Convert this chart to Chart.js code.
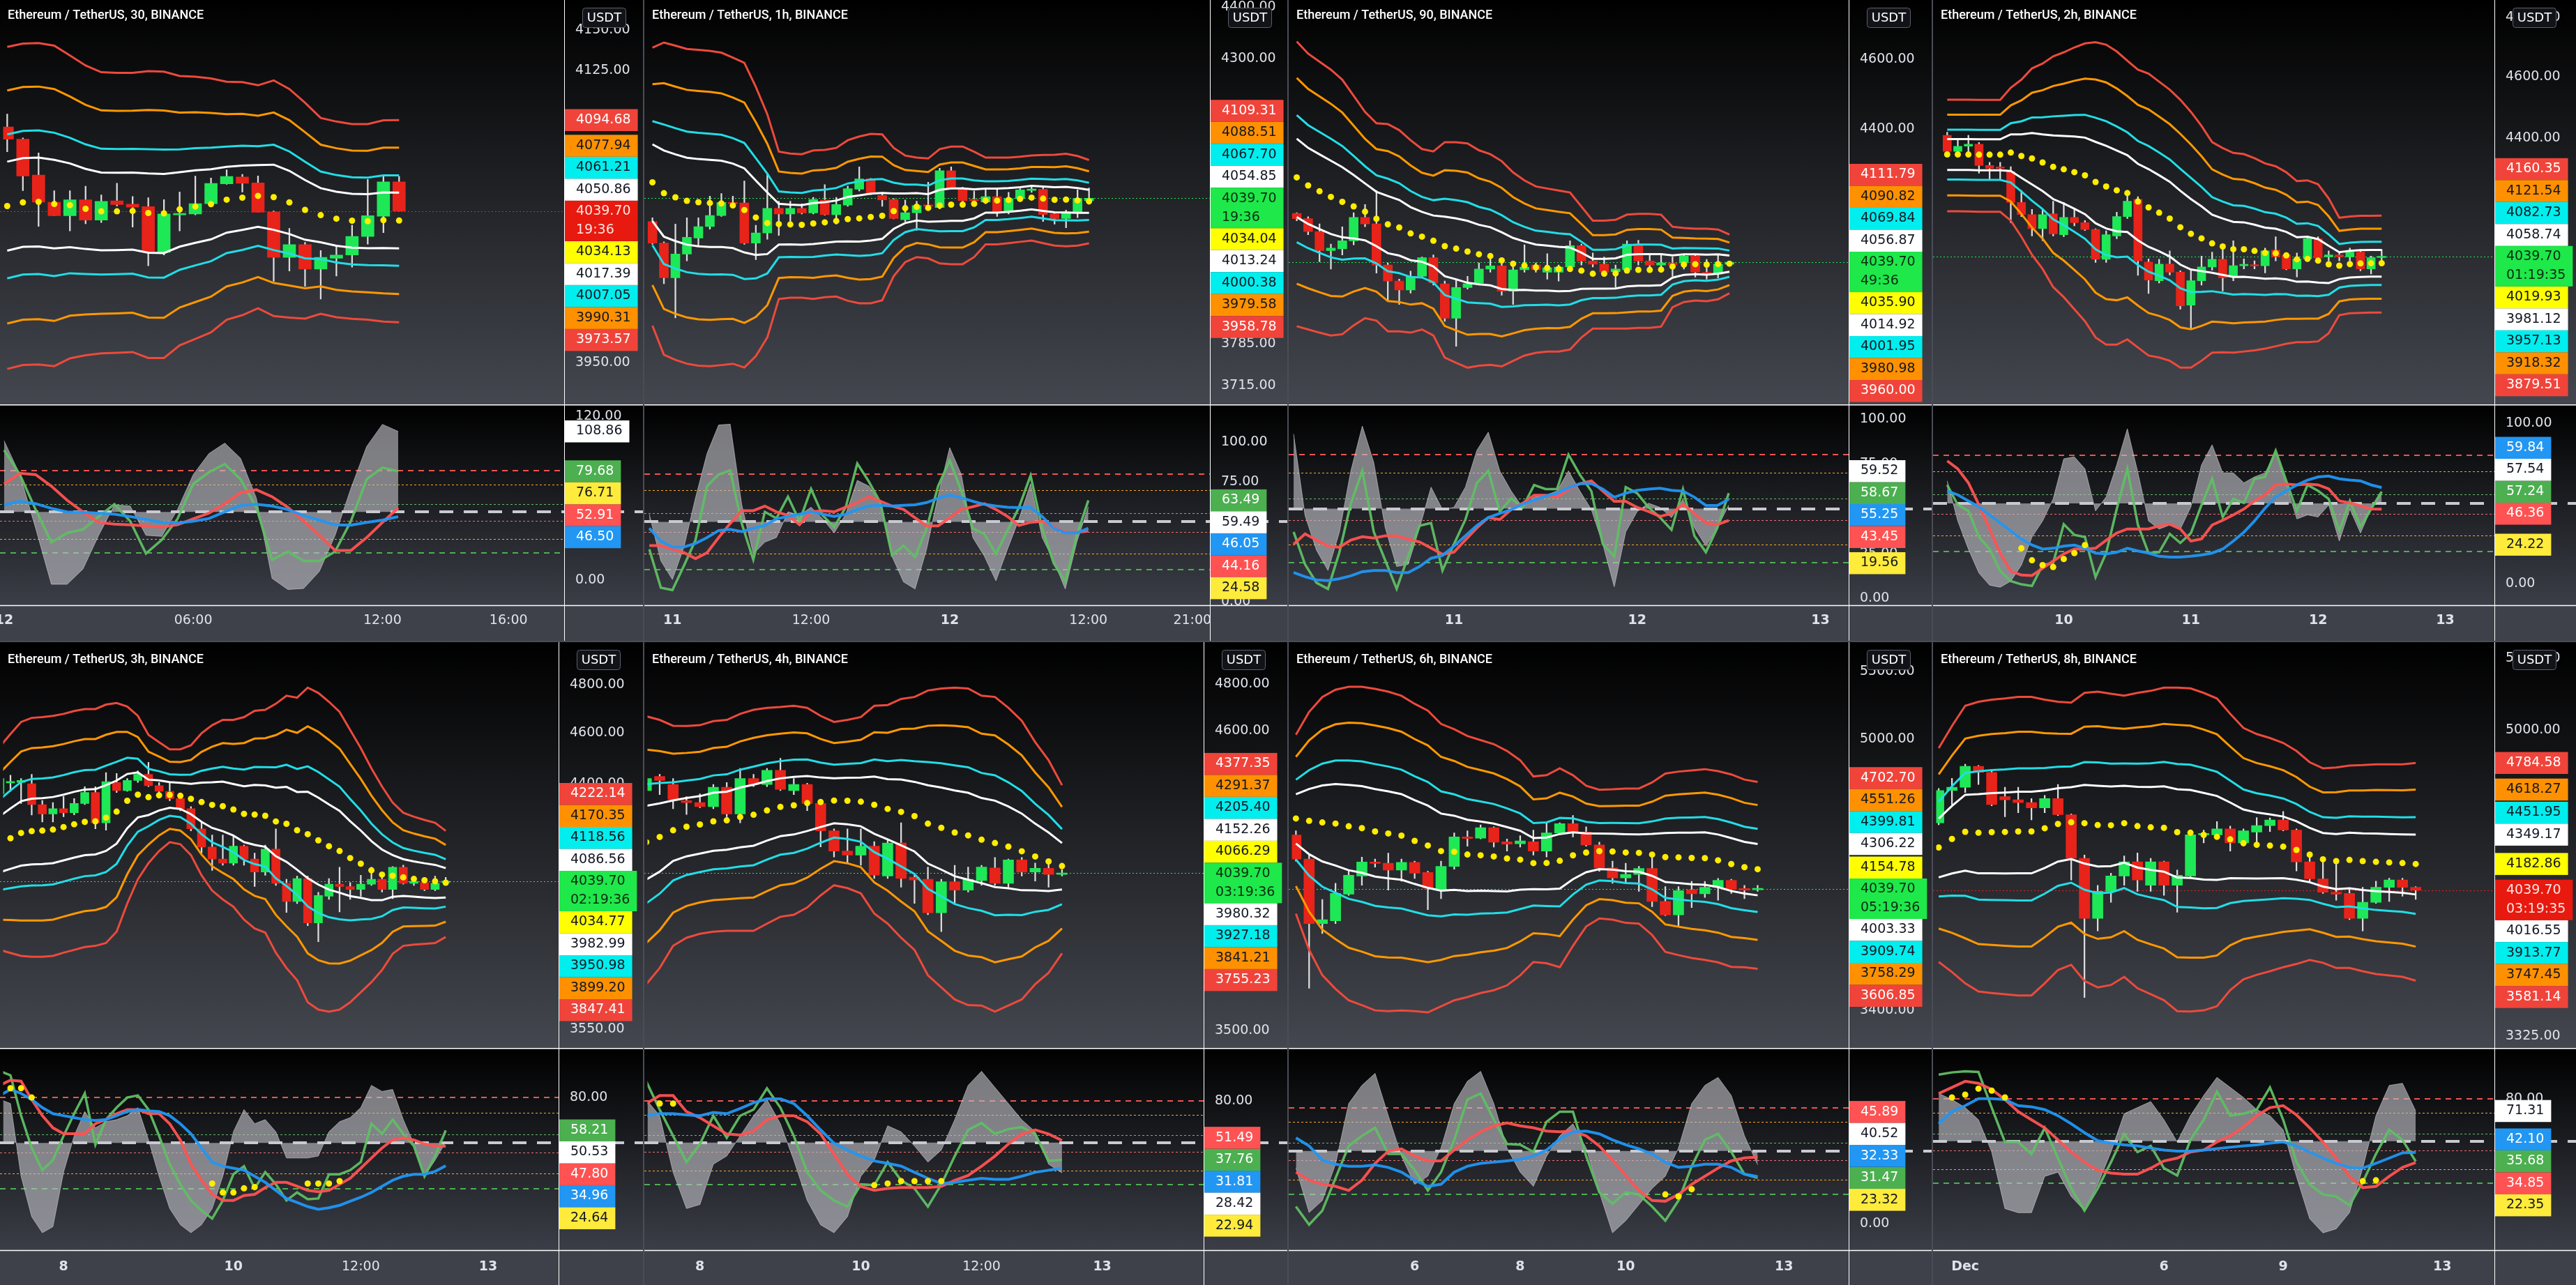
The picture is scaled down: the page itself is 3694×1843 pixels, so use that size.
<!DOCTYPE html>
<html>
<head>
<meta charset="utf-8">
<script src="https://cdn.jsdelivr.net/npm/chart.js@4.4.1/dist/chart.umd.min.js"></script>
<style>
  html, body { margin: 0; padding: 0; width: 3694px; height: 1843px; overflow: hidden; background: #4a4d57; }
  .panel { position: absolute; overflow: hidden; background: #000; }
  .panel canvas { position: absolute; left: 0; }
</style>
</head>
<body>
<script>
// ---- shared values ----
const titles = [
  'Ethereum / TetherUS, 30, BINANCE', 'Ethereum / TetherUS, 1h, BINANCE',
  'Ethereum / TetherUS, 90, BINANCE', 'Ethereum / TetherUS, 2h, BINANCE',
  'Ethereum / TetherUS, 3h, BINANCE', 'Ethereum / TetherUS, 4h, BINANCE',
  'Ethereum / TetherUS, 6h, BINANCE', 'Ethereum / TetherUS, 8h, BINANCE'
];
const lastPrice = 4039.70;
const countdowns = ['19:36', '19:36', '49:36', '01:19:35', '02:19:36', '03:19:36', '05:19:36', '03:19:35'];
const bandMult = [1, 0.7236, 0.4472, 0.2764];
const oscLevelValues = [80, 70, 55.5, 50, 43.5, 30, 20];

// ---- panel 1 : 30m ----
const p1Candles = [
  [4090.5,4098.4,4075.5,4083.1],[4083.1,4083.9,4052.0,4060.8],[4061.4,4074.8,4030.6,4045.1],[4045.1,4052.0,4037.0,4037.0],
  [4037.0,4052.0,4027.9,4046.5],[4046.5,4054.7,4032.2,4034.3],[4034.3,4049.4,4032.9,4045.6],[4045.9,4056.5,4042.8,4043.6],
  [4043.9,4048.5,4030.2,4042.1],[4042.4,4047.8,4007.1,4015.4],[4015.1,4046.6,4013.5,4038.0],[4037.5,4051.2,4027.9,4038.3],
  [4038.0,4060.8,4037.5,4044.2],[4044.2,4059.6,4043.6,4056.4],[4056.1,4064.6,4055.8,4060.6],[4060.3,4061.8,4051.2,4056.4],
  [4056.7,4060.9,4039.0,4039.0],[4039.3,4039.8,3997.9,4012.1],[4012.1,4029.4,4004.0,4019.7],[4019.7,4021.1,3994.9,4005.1],
  [4005.1,4016.2,3987.3,4012.1],[4011.6,4018.5,4001.0,4013.5],[4013.5,4031.4,4006.3,4024.6],[4024.6,4058.8,4020.0,4037.0],
  [4036.7,4060.6,4026.8,4057.3],[4057.3,4060.6,4039.7,4039.7]
];
const p1Basis = [4042.8,4045.0,4045.3,4044.0,4043.3,4041.1,4039.6,4039.6,4039.8,4038.6,4038.4,4040.8,4042.5,4043.9,4046.6,4047.8,4048.9,4048.1,4045.0,4040.5,4037.3,4035.2,4034.0,4033.7,4034.3,4034.13];
const p1Width = [96.6,96.5,96.5,96.2,90.9,86.9,84.3,83.9,83.7,86.0,85.8,80.8,78.7,76.2,71.5,70.0,67.0,70.8,68.6,64.7,58.7,58.6,58.3,58.6,60.3,60.55];
const p1Green = [95.2,77.3,51.7,27.8,34.6,37.2,46.6,55.6,43.2,19.6,29.5,44.9,70.5,79.0,85.0,73.9,53.4,15.0,21.0,14.2,14.2,21.0,43.2,73.9,82.4,79.68];
const p1Red = [70.5,78.2,77.3,68.8,58.5,50.0,42.3,41.0,40.6,39.8,38.9,40.6,44.9,49.1,56.0,64.0,66.2,61.1,53.4,43.2,32.9,21.8,21.8,31.2,42.3,52.91];
const p1Blue = [55.1,57.7,56.0,52.6,50.0,49.7,49.1,48.3,46.6,44.5,42.3,41.8,43.2,45.2,50.0,54.8,55.6,54.3,51.7,47.4,44.0,40.6,40.3,42.3,44.0,46.50];
const p1Gray = [102,77.3,38.1,-2.9,-2.9,8.2,32.9,55.1,54.3,32.9,32.1,51.7,77.3,92.7,100.3,89.2,60.2,1.4,-6.7,-6.0,6.5,32.9,67.1,97.8,114.0,108.86];
const p1Dots = [];
const p1Levels = [4094.68,4077.94,4061.21,4050.86,4034.13,4017.39,4007.05,3990.31,3973.57];
const p1OscLast = [79.68,52.91,46.50,108.86,76.71];
const p1PriceTicks = [4150,4125,3950];
const p1OscTicks = [120,0];
const p1TimeIdx = [0,12,24,32];
const p1TimeText = ['12','06:00','12:00','16:00'];

// ---- panel 2 : 1h ----
const p2Candles = [
  [3997.7,4004.5,3957.1,3959.3],[3959.3,3961.6,3887.9,3898.2],[3898.2,3993.2,3828.9,3940.0],[3940.0,4004.5,3927.9,3969.6],
  [3968.2,4004.5,3954.8,3988.6],[3988.6,4043.4,3984.1,4008.5],[4008.5,4048.0,4006.7,4031.9],[4031.9,4043.4,4025.0,4029.6],
  [4031.0,4071.0,3957.1,3959.3],[3959.3,3990.9,3930.1,3977.3],[3977.3,4084.9,3966.0,4021.3],[4021.3,4034.2,3972.8,4011.2],
  [4011.2,4034.2,3997.7,4021.3],[4021.3,4029.6,4011.2,4013.1],[4013.1,4041.1,4011.2,4037.4],[4036.5,4064.1,4008.9,4009.9],
  [4009.9,4041.1,3993.2,4028.2],[4027.3,4061.7,4025.0,4057.1],[4055.8,4096.6,4052.6,4074.7],[4074.7,4075.6,4046.0,4048.0],
  [4044.7,4050.3,4025.0,4036.5],[4037.4,4038.8,4002.3,4003.2],[4000.9,4036.5,3997.7,4013.5],[4013.5,4034.2,3981.8,4026.4],
  [4027.3,4068.7,4018.1,4025.0],[4022.7,4094.3,4020.4,4089.6],[4089.6,4096.6,4057.1,4058.1],[4058.1,4059.4,4029.6,4035.1],
  [4036.5,4052.6,4029.6,4035.1],[4032.8,4054.8,4029.6,4042.5],[4042.5,4054.8,4006.7,4014.9],[4014.9,4050.3,4011.2,4038.8],
  [4038.8,4057.1,4034.2,4054.8],[4053.7,4061.7,4050.3,4055.8],[4055.8,4059.4,3997.7,4010.3],[4011.2,4012.1,3993.2,4003.2],
  [4003.2,4018.1,3986.4,4014.9],[4014.9,4054.8,4004.5,4038.8],[4035.1,4058.1,4028.7,4039.7]
];
const p2Basis = [4068.4,4048.7,4041.3,4035.0,4032.4,4031.0,4030.2,4026.6,4018.4,4005.0,3995.0,3993.1,3992.5,3991.8,3994.2,3996.2,3998.7,4002.1,4003.4,4005.8,4007.9,4016.4,4021.6,4024.2,4022.2,4026.4,4028.1,4028.1,4029.6,4035.4,4035.4,4036.5,4038.4,4040.7,4038.9,4036.9,4037.2,4035.7,4034.04];
const p2Width = [252.7,282.5,283.7,283.8,284.6,284.0,281.3,275.4,273.6,241.0,199.3,131.6,128.8,128.1,132.7,131.6,132.9,143.7,149.4,151.8,148.7,115.2,95.9,89.6,89.9,103.0,106.0,106.0,95.0,78.4,78.4,77.3,76.9,76.9,79.7,82.1,83.7,80.9,75.27];
const p2Green = [32.9,8.7,7.3,22.6,38.7,72.4,79.7,82.3,49.0,26.3,56.3,52.2,65.8,50.4,70.6,54.1,46.8,59.2,86.6,75.3,62.1,29.2,35.1,28.0,46.0,72.4,88.5,69.5,46.0,42.4,29.9,44.6,59.2,79.0,46.0,24.1,12.4,41.7,63.49];
const p2Red = [35.1,35.1,32.9,30.7,27.0,30.7,40.2,49.0,57.0,57.0,59.9,56.3,54.1,48.2,56.3,57.0,56.3,59.2,62.1,65.8,62.9,59.9,57.8,52.6,47.5,47.5,52.6,57.8,59.5,61.4,57.8,53.4,47.8,49.7,50.4,46.8,43.4,43.4,44.16];
const p2Blue = [46.0,38.0,34.3,34.3,36.5,40.2,44.6,45.3,43.9,46.0,47.8,51.9,53.4,54.8,56.3,54.8,53.4,54.8,57.8,59.9,60.4,59.9,60.4,60.7,62.1,64.8,66.8,65.1,62.9,61.0,59.9,59.2,58.9,59.2,53.4,46.0,43.1,43.1,46.05];
const p2Gray = [54.8,25.6,13.9,34.3,65.1,92.9,110.7,111.2,60.7,30.0,37.3,40.2,56.3,54.1,59.2,51.9,43.1,54.8,76.0,72.4,62.1,28.5,12.4,8.0,32.9,66.5,96.5,79.7,40.2,28.5,13.1,32.9,51.9,73.9,40.2,25.6,8.0,37.3,59.49];
const p2Dots = [];
const p2Levels = [4109.31,4088.51,4067.70,4054.85,4034.04,4013.24,4000.38,3979.58,3958.78];
const p2OscLast = [63.49,44.16,46.05,59.49,24.58];
const p2PriceTicks = [4400,4300,3785,3715];
const p2OscTicks = [100,75,0];
const p2TimeIdx = [2,14,26,38,47];
const p2TimeText = ['11','12:00','12','12:00','21:00'];

// ---- panel 3 : 90m ----
const p3Candles = [
  [4167.9,4170.0,4148.5,4153.9],[4153.9,4159.2,4111.2,4119.8],[4119.8,4140.0,4040.7,4070.0],[4070.0,4086.9,4022.0,4076.4],
  [4074.3,4132.5,4058.5,4095.4],[4095.4,4170.0,4084.8,4157.2],[4157.2,4191.6,4132.5,4140.0],[4140.0,4229.6,4011.6,4032.4],
  [4032.4,4037.6,3939.8,3991.0],[3991.0,3996.1,3931.7,3968.3],[3968.3,4016.8,3960.2,4003.3],[4003.3,4053.3,4001.2,4051.2],
  [4051.2,4058.5,3980.7,3986.1],[3984.1,3991.0,3889.3,3897.3],[3897.3,3993.1,3827.6,3974.5],[3974.5,4003.3,3970.4,3984.1],
  [3986.1,4037.6,3980.7,4022.0],[4022.0,4058.5,4013.7,4030.3],[4030.3,4037.6,3955.1,3965.3],[3965.3,4032.4,3931.7,4019.9],
  [4019.9,4084.8,4013.7,4027.2],[4032.4,4037.6,4013.7,4019.9],[4013.7,4061.6,3996.1,4025.1],[4013.7,4032.4,3991.0,4027.2],
  [4027.2,4095.4,4022.0,4082.7],[4082.7,4086.9,4032.4,4042.8],[4042.8,4063.8,4027.2,4034.5],[4034.5,4053.3,4009.5,4013.7],
  [4015.0,4032.4,3975.5,4022.0],[4019.9,4095.4,4016.8,4086.9],[4086.9,4097.0,4032.4,4042.8],[4042.8,4058.5,4027.2,4032.4],
  [4032.4,4058.5,4024.1,4037.6],[4037.6,4053.3,4003.3,4032.4],[4037.6,4058.5,4022.0,4055.4],[4055.4,4058.5,4001.2,4013.7],
  [4013.7,4047.0,3996.1,4009.5],[4009.5,4058.5,3999.1,4034.5],[4034.5,4040.7,4032.4,4039.7]
];
const p3Basis = [4265.4,4243.4,4227.6,4212.3,4199.1,4186.8,4172.7,4153.7,4139.0,4130.5,4114.8,4106.4,4095.6,4081.4,4075.0,4067.4,4060.3,4055.8,4044.3,4035.6,4031.0,4026.2,4024.9,4022.2,4022.0,4017.8,4009.9,4009.9,4011.0,4018.0,4020.0,4020.0,4020.5,4028.6,4033.5,4034.5,4033.5,4035.0,4035.90];
const p3Width = [388.1,374.2,366.3,358.0,341.8,307.5,275.4,262.4,274.7,266.2,253.5,237.2,241.3,281.4,287.7,291.9,279.9,273.4,265.8,243.5,226.1,214.5,210.2,207.5,202.3,168.5,138.7,138.7,139.8,146.8,146.8,146.8,144.2,104.0,95.8,92.7,93.7,90.2,75.9];
const p3Green = [37.0,18.9,8.6,5.2,25.7,53.0,71.1,37.0,21.1,5.2,23.4,40.5,42.0,15.5,30.2,43.9,64.3,71.1,48.4,55.7,50.7,63.2,60.9,60.9,80.2,68.9,59.8,30.2,23.4,62.0,58.6,50.7,45.0,38.2,60.9,34.8,25.7,39.3,58.67];
const p3Red = [30.2,35.9,32.5,29.1,28.4,32.5,34.3,33.6,34.8,34.8,33.0,31.4,28.0,24.5,25.7,32.5,39.3,45.0,43.9,49.5,53.0,57.5,57.5,56.4,60.9,63.9,65.5,59.8,54.1,54.1,50.7,48.4,45.7,47.3,52.5,47.3,42.0,41.1,43.45];
const p3Blue = [14.3,12.0,10.2,9.8,10.9,12.5,14.8,15.5,15.5,14.3,14.3,17.7,22.3,23.9,29.1,34.8,40.5,45.0,47.3,49.5,52.5,54.8,57.0,58.6,61.6,63.9,63.9,60.9,56.4,58.6,60.2,60.9,61.4,60.2,59.8,56.4,51.8,51.8,55.25];
const p3Gray = [91.6,46.1,26.8,15.5,37.0,71.1,96.1,75.7,39.3,17.7,18.9,39.3,62.0,49.5,50.7,62.0,82.5,92.7,71.1,59.8,50.7,56.4,57.5,59.8,71.1,59.8,49.5,30.2,6.4,37.0,48.4,53.0,50.7,45.0,55.2,39.3,29.1,39.3,52.0];
const p3Dots = [];
const p3Levels = [4111.79,4090.82,4069.84,4056.87,4035.90,4014.92,4001.95,3980.98,3960.00];
const p3OscLast = [58.67,43.45,55.25,59.52,19.56];
const p3PriceTicks = [4600,4400];
const p3OscTicks = [100,75,25,0];
const p3TimeIdx = [14,30,46];
const p3TimeText = ['11','12','13'];

// ---- panel 4 : 2h ----
const p4Candles = [
  [4408.6,4418.8,4342.6,4357.8],[4357.8,4393.3,4348.0,4374.3],[4374.3,4408.6,4342.6,4380.5],[4380.5,4386.0,4290.0,4313.8],
  [4313.8,4323.8,4267.7,4305.1],[4307.5,4323.8,4267.7,4305.1],[4295.1,4310.0,4139.5,4200.2],[4200.2,4236.9,4157.7,4163.6],
  [4163.6,4179.4,4100.0,4121.5],[4121.5,4179.4,4085.8,4163.6],[4166.1,4203.8,4100.0,4106.0],[4103.6,4200.2,4097.6,4155.2],
  [4155.2,4179.4,4130.0,4139.5],[4139.5,4145.6,4116.0,4119.2],[4119.2,4121.5,4022.0,4031.5],[4031.5,4115.0,4022.0,4103.6],
  [4100.0,4171.0,4091.7,4157.7],[4157.7,4236.9,4152.0,4203.8],[4209.9,4218.0,3985.0,4026.8],[4023.3,4032.7,3933.0,3971.3],
  [3969.5,4031.5,3963.0,4017.4],[4017.4,4056.1,3986.0,3994.1],[3994.1,3998.0,3888.8,3897.9],[3900.1,4003.4,3832.8,3969.5],
  [3969.5,4040.9,3957.2,4009.2],[4009.2,4052.6,4000.0,4031.5],[4031.5,4073.9,3940.0,3977.8],[3982.5,4085.8,3969.5,4012.7],
  [4012.7,4032.7,4003.4,4015.1],[4015.1,4026.8,4003.4,4012.0],[4012.7,4064.0,3992.0,4056.1],[4058.5,4097.6,4026.8,4038.5],
  [4044.4,4050.0,4001.0,4003.4],[4003.4,4050.0,3980.2,4032.7],[4032.7,4097.6,4026.8,4091.7],[4091.7,4097.6,4021.0,4035.0],
  [4038.5,4056.1,4026.8,4044.4],[4044.4,4050.0,4026.8,4038.5],[4038.5,4064.0,4026.8,4052.6],[4052.6,4060.0,3998.0,4003.4],
  [4003.4,4040.9,3989.0,4036.2],[4036.2,4060.0,4026.8,4039.7]
];
const p4Basis = [4348.4,4348.4,4348.2,4347.7,4347.7,4347.7,4354.3,4343.6,4335.8,4323.4,4309.5,4302.0,4293.2,4283.2,4262.9,4248.8,4237.3,4228.8,4202.9,4185.3,4169.2,4151.6,4125.8,4106.2,4092.7,4078.0,4069.0,4060.9,4060.6,4055.9,4049.9,4048.8,4042.8,4031.3,4032.5,4027.5,4017.0,4013.0,4017.6,4019.4,4019.8,4019.93];
const p4Width = [175.0,175.0,175.2,175.6,175.6,175.6,208.7,246.0,291.4,319.9,358.1,379.2,404.5,428.2,452.5,458.3,446.8,423.9,420.1,424.4,413.8,404.9,397.6,378.0,346.0,309.4,299.4,292.3,288.8,280.8,270.4,262.7,250.0,234.1,235.3,228.1,195.4,141.1,140.1,140.8,140.3,140.42];
const p4Green = [61.5,49,45.3,29,21.5,7.8,1.5,-0.5,-1.5,11.5,12.8,37,30.3,29,4,19,46.5,71.5,36.5,19,19.5,31,25.3,31.5,49,65.3,41.5,52.8,50.3,65.3,66.5,82.8,64,45.3,61.5,57.8,52.8,32.8,51.5,35.3,46.5,57.24];
const p4Red = [76.5,71.5,62.8,49,34,19,7.8,5.3,5,9.5,14,18.5,21.5,21.5,22,27,31.5,34,34,34,36,37,34,26.5,27.8,36.5,39.5,42.8,46.5,51.5,55.3,61.5,62,61.5,62,61.5,59,51.5,50.3,48.5,46.5,46.36];
const p4Blue = [57.8,55.3,51.5,47.8,42.8,37.8,32.8,27.8,24,21.5,22,23.3,24,22,19,18.5,19.5,22,20.3,19,17,16.5,16.5,17,17.8,19,21.5,26.5,32,39,47,54,57.8,61.5,64.5,66.5,67,65.3,64.5,64,61.5,59.84];
const p4Gray = [64,39,21.5,6.5,-1,-2.3,1.5,11.5,29,39,52.8,77.8,79,71.5,45.3,54,74,96.5,69,39,34,36.5,34,47.8,74,86.5,69,69,62.8,66.5,69,81.5,61.5,40.3,42.8,41.5,49,26.5,46.5,31.5,46.5,57.54];
const p4Dots = [[7,22],[8,14.5],[9,11.5],[10,10.3],[11,15.3],[12,19],[13,24]];
const p4Levels = [4160.35,4121.54,4082.73,4058.74,4019.93,3981.12,3957.13,3918.32,3879.51];
const p4OscLast = [57.24,46.36,59.84,57.54,24.22];
const p4PriceTicks = [4800,4600,4400];
const p4OscTicks = [100,0];
const p4TimeIdx = [11,23,35,47];
const p4TimeText = ['10','11','12','13'];

// ---- panel 5 : 3h ----
const p5Candles = [
  [4361.7,4425.0,4355.0,4420.6],[4403.5,4433.0,4370.9,4405.0],[4405.0,4420.6,4324.8,4412.8],[4400.3,4436.2,4281.0,4320.3],
  [4320.3,4336.0,4255.0,4285.3],[4285.3,4327.9,4255.0,4305.0],[4305.0,4351.0,4274.7,4289.8],[4289.8,4343.2,4282.0,4324.8],
  [4324.8,4389.0,4320.3,4366.3],[4366.3,4389.0,4229.6,4252.1],[4252.1,4443.0,4225.0,4408.1],[4405.0,4440.0,4366.3,4374.0],
  [4374.0,4420.6,4370.9,4412.8],[4412.8,4450.0,4405.0,4436.2],[4436.2,4483.5,4389.0,4392.6],[4392.6,4405.0,4366.3,4370.9],
  [4370.9,4405.0,4335.0,4343.2],[4343.2,4351.0,4297.0,4305.0],[4305.0,4313.0,4222.1,4229.6],[4229.6,4252.1,4140.9,4162.9],
  [4162.9,4207.0,4078.4,4119.0],[4119.0,4207.0,4097.0,4104.5],[4104.5,4207.0,4097.0,4165.8],[4165.8,4170.0,4097.0,4119.0],
  [4119.0,4140.9,4021.2,4072.6],[4072.6,4170.0,4061.1,4155.5],[4155.5,4229.6,4025.4,4032.6],[4032.6,4046.8,3931.0,3969.0],
  [3969.0,4058.0,3961.9,4049.7],[4049.7,4058.0,3885.7,3895.3],[3895.3,4001.0,3831.2,3990.1],[3987.3,4049.7,3976.1,4029.7],
  [4029.7,4090.0,3933.0,4021.2],[4021.2,4035.4,3976.1,4011.3],[4011.3,4061.1,3987.3,4029.7],[4029.7,4090.0,4025.4,4046.8],
  [4046.8,4054.0,4002.0,4011.3],[4011.3,4092.0,3979.0,4090.0],[4090.0,4097.0,4029.7,4032.6],[4032.6,4054.0,4025.4,4039.7],
  [4035.4,4054.0,4007.0,4011.3],[4011.3,4058.0,4007.0,4032.6],[4035.4,4054.0,4032.6,4039.7]
];
const p5Basis = [4174.5,4195.0,4214.5,4221.4,4223.0,4226.8,4236.3,4246.8,4255.6,4257.6,4271.5,4293.9,4334.8,4358.2,4348.6,4355.8,4357.6,4353.9,4342.1,4330.1,4319.4,4314.6,4301.9,4285.5,4283.1,4278.4,4257.1,4248.5,4224.6,4209.9,4187.4,4165.8,4148.2,4122.8,4102.5,4079.0,4063.5,4059.4,4053.7,4048.2,4043.5,4039.6,4034.77];
const p5Width = [370.5,401.0,430.4,440.0,441.6,442.7,441.5,442.6,442.0,440.0,444.4,428.7,372.9,311.4,244.1,207.6,177.0,180.7,208.5,269.0,312.4,338.5,351.2,379.1,407.0,416.0,462.3,504.3,519.9,576.5,577.1,561.8,537.9,489.4,436.9,380.8,326.0,268.6,236.1,226.5,219.1,212.5,187.37];
const p5Green = [97.1,94.4,67.9,46.7,32.1,38.7,54.6,69.2,82.5,48.8,65.3,73.2,79.8,81.2,71.9,54.6,36.1,22.8,12.2,5.6,0.3,12.2,29.4,34.7,20.2,30.8,22.8,12.2,17.5,13.0,13.5,29.4,29.4,32.1,37.4,62.6,56.0,65.3,56.0,48.0,28.1,41.4,58.21];
const p5Red = [87.8,91.2,90.5,78.5,67.9,59.9,56.0,56.0,56.0,62.6,65.3,69.2,71.9,71.9,69.2,69.2,62.6,52.0,36.1,25.5,16.2,12.2,12.2,15.4,16.2,20.7,24.1,24.1,21.5,18.8,18.0,18.8,22.8,26.8,33.4,40.1,46.7,52.0,53.3,52.0,49.3,48.0,47.80];
const p5Blue = [81.2,85.1,82.5,78.5,73.2,69.2,67.9,66.6,65.3,64.7,65.3,67.9,70.6,71.9,71.1,70.6,67.9,62.6,56.0,46.7,37.4,34.7,33.4,32.1,28.1,24.1,18.8,13.5,10.9,8.2,6.4,7.4,9.0,11.7,14.3,17.5,21.5,25.5,28.1,29.4,29.4,31.3,34.96];
const p5Gray = [78.5,75.9,28.1,1.6,-9.0,-5.0,30.8,54.6,70.6,59.9,63.9,65.3,67.9,73.2,52.0,28.1,6.9,-3.7,-9.0,-3.7,6.9,28.1,57.3,71.9,62.6,65.3,57.3,40.1,40.1,40.1,41.4,57.3,63.9,66.6,73.2,87.8,83.8,85.1,65.3,49.3,28.1,38.7,50.53];
const p5Dots = [[1,85.9],[2,85.9],[3,79.8],[20,23.3],[21,17.5],[22,17.5],[23,20.2],[24,21.0],[29,23.3],[30,23.3],[31,23.3],[32,24.9]];
const p5Levels = [4222.14,4170.35,4118.56,4086.56,4034.77,3982.99,3950.98,3899.20,3847.41];
const p5OscLast = [58.21,47.80,34.96,50.53,24.64];
const p5PriceTicks = [4800,4600,4400,3550];
const p5OscTicks = [80,0];
const p5TimeIdx = [6,22,34,46];
const p5TimeText = ['8','10','12:00','13'];

// ---- panel 6 : 4h ----
const p6Candles = [
  [4355.9,4412.0,4350.0,4404.2],[4412.4,4420.4,4339.9,4396.2],[4380.0,4404.2,4284.4,4320.8],[4316.1,4331.9,4262.0,4308.1],
  [4308.1,4343.0,4288.0,4292.3],[4292.3,4380.0,4284.4,4368.8],[4368.8,4388.0,4253.1,4264.0],[4264.0,4444.9,4229.7,4404.2],
  [4404.2,4420.4,4371.9,4380.0],[4380.0,4444.9,4371.9,4436.8],[4436.8,4486.0,4355.9,4360.7],[4355.9,4404.2,4339.9,4380.0],
  [4380.0,4385.0,4276.6,4305.0],[4305.0,4308.1,4137.5,4198.7],[4198.7,4206.4,4100.0,4122.2],[4122.2,4206.4,4077.0,4107.1],
  [4107.1,4206.4,4069.0,4140.5],[4140.5,4158.0,4020.4,4032.3],[4029.3,4163.0,4020.4,4152.6],[4152.6,4229.7,3988.4,4020.4],
  [4024.9,4032.3,3929.9,4014.5],[4017.5,4062.1,3890.0,3896.7],[3896.7,4017.5,3830.0,4008.6],[4008.6,4069.0,3929.9,3978.0],
  [3978.0,4062.1,3971.0,4017.5],[4013.0,4069.0,3995.6,4062.1],[4059.1,4098.0,3995.6,4002.7],[4002.7,4092.0,3988.4,4089.0],
  [4089.0,4098.0,4029.3,4044.2],[4044.2,4077.0,4011.0,4057.6],[4057.6,4077.0,3988.4,4035.2],[4035.2,4054.0,4029.3,4039.7]
];
const p6Basis = [4156.0,4175.4,4200.8,4214.4,4223.1,4235.2,4239.1,4252.0,4260.6,4277.6,4291.4,4297.6,4306.2,4310.7,4316.3,4315.3,4311.8,4299.7,4283.6,4272.0,4255.4,4226.3,4210.5,4192.4,4181.3,4164.9,4152.4,4138.9,4121.3,4101.8,4083.4,4066.29];
const p6Width = [505.0,470.1,419.8,405.5,400.2,405.2,406.3,419.2,427.8,419.4,409.0,408.0,390.8,351.9,320.7,330.2,345.7,405.8,425.4,463.1,488.3,545.4,570.0,591.8,599.2,584.1,591.3,558.1,520.7,450.6,394.3,311.06];
const p6Green = [93.7,73.6,54.8,36.1,49.0,69.2,53.4,69.2,73.6,88.8,75.0,54.8,28.8,15.9,8.7,4.3,20.2,19.6,36.1,23.1,17.3,4.3,20.2,40.4,59.1,64.0,56.2,59.7,61.1,56.2,36.9,37.76];
const p6Red = [77.9,83.6,83.6,72.1,67.8,62.0,56.2,55.4,58.3,66.3,69.2,69.2,64.9,56.2,41.8,27.4,18.7,15.9,17.3,17.9,17.9,17.9,18.7,23.1,26.5,33.2,40.4,49.0,56.2,59.1,56.2,51.49];
const p6Blue = [69.2,70.7,70.7,69.8,69.2,71.5,70.7,74.4,78.5,81.3,81.3,77.9,69.2,59.1,49.6,44.7,40.4,36.9,35.2,33.2,28.8,24.5,20.8,21.6,23.1,24.5,23.7,23.7,26.0,28.8,30.3,31.81];
const p6Gray = [80.8,69.2,28.8,2.9,5.8,34.6,40.4,54.8,69.2,80.8,63.5,37.5,8.7,-8.7,-14.4,-2.9,26.0,37.5,62.0,57.7,47.6,36.1,44.7,66.3,90.9,101.0,89.4,77.9,66.3,57.7,34.6,28.42];
const p6Dots = [[1,77.9],[2,77.9],[17,19.6],[18,20.8],[19,22.5],[20,22.5],[21,22.5],[22,22.5]];
const p6Levels = [4377.35,4291.37,4205.40,4152.26,4066.29,3980.32,3927.18,3841.21,3755.23];
const p6OscLast = [37.76,51.49,31.81,28.42,22.94];
const p6PriceTicks = [4800,4600,3500];
const p6OscTicks = [80];
const p6TimeIdx = [4,16,25,34];
const p6TimeText = ['8','10','12:00','13'];

// ---- panel 7 : 6h ----
const p7Candles = [
  [4362.1,4387.2,4202.6,4214.7],[4214.7,4239.0,3508.5,3845.6],[3845.6,3979.8,3791.8,3867.5],[3860.9,4072.2,3845.6,4014.4],
  [4009.7,4142.8,4002.8,4119.2],[4114.6,4226.8,4060.6,4197.9],[4197.9,4214.7,4166.7,4188.3],[4190.6,4251.1,4032.8,4150.0],
  [4150.0,4214.7,4083.9,4195.6],[4195.6,4202.6,4100.8,4131.2],[4135.9,4142.8,3923.1,4044.3],[4037.4,4202.6,3984.4,4171.4],
  [4171.4,4374.7,4154.9,4349.7],[4349.7,4387.2,4292.7,4340.2],[4342.2,4425.1,4337.2,4407.4],[4407.4,4412.4,4287.8,4317.4],
  [4319.9,4337.2,4263.3,4305.4],[4307.5,4357.1,4287.8,4324.8],[4319.9,4392.2,4239.0,4263.3],[4263.3,4437.8,4226.8,4374.7],
  [4374.7,4437.8,4367.2,4432.7],[4432.7,4483.8,4349.7,4379.6],[4379.6,4412.4,4292.7,4300.1],[4300.1,4317.4,4142.8,4161.9],
  [4161.9,4202.6,4072.2,4103.1],[4103.1,4190.6,4072.2,4124.3],[4124.3,4171.4,4025.8,4159.6],[4159.6,4226.8,3938.9,3968.5],
  [3968.5,4053.6,3889.6,3893.9],[3893.9,4053.6,3828.2,4030.4],[4035.1,4083.9,3934.3,4012.0],[4012.0,4083.9,3991.4,4049.0],
  [4049.0,4100.8,3975.4,4089.2],[4089.2,4096.1,4014.4,4037.4],[4042.0,4060.6,3984.4,4032.8],[4035.1,4060.6,4025.8,4039.7]
];
const p7Basis = [4465,4450,4440,4433,4416.0,4404.2,4383.7,4371.1,4357.7,4325.5,4297.1,4263.0,4258.8,4242.2,4237.8,4230.5,4218.5,4211.7,4190.9,4191.8,4204.7,4237.2,4254.0,4262.8,4260.8,4254.6,4252.5,4241.9,4226.7,4225.1,4221.8,4220.7,4207.6,4185.2,4166.6,4154.78];
const p7Width = [565,745,866,928,967.3,979.1,984.0,975.3,958.0,929.7,907.1,843.8,810.1,777.6,753.3,732.0,695.9,638.3,549.2,556.4,590.0,511.1,424.0,388.6,393.3,404.8,406.9,457.7,532.5,547.7,559.2,568.6,568.0,568.5,551.9,547.93];
const p7Green = [11.6,-0.9,8.8,31.2,53.5,60.5,66.1,48.0,48.0,36.8,22.8,35.4,57.7,85.6,89.8,71.6,54.9,54.4,49.4,70.3,77.2,77.2,46.6,21.5,13.6,21.5,20.0,11.6,1.9,15.8,39.5,57.7,61.9,49.4,34.0,31.47];
const p7Red = [35.4,29.8,27.0,25.6,22.8,29.8,41.5,49.9,51.5,46.6,43.2,43.2,50.7,57.7,63.3,67.4,69.4,67.4,66.1,63.8,63.3,63.8,60.5,53.5,43.7,33.1,22.8,15.8,15.3,20.0,27.0,32.6,38.2,43.2,45.2,45.89];
const p7Blue = [59.1,53.5,43.7,40.9,39.5,39.5,40.4,38.7,35.4,29.8,25.6,27.0,35.4,39.5,41.5,42.3,43.2,44.3,46.5,50.7,58.3,63.3,63.8,61.9,57.7,54.3,51.5,47.9,42.3,38.7,39.5,40.9,40.9,38.7,34.0,32.33];
const p7Gray = [38.2,7.5,15.8,40.9,82.8,95.4,103.7,74.4,46.5,27.0,32.6,52.1,82.8,98.2,105.1,82.8,52.1,35.4,25.6,46.5,60.5,68.8,52.1,21.5,-6.5,1.9,13.0,24.2,32.6,52.1,82.8,95.4,100.9,88.4,60.5,40.52];
const p7Dots = [[28,20.0],[29,18.6],[30,23.6]];
const p7Levels = [4702.70,4551.26,4399.81,4306.22,4154.78,4003.33,3909.74,3758.29,3606.85];
const p7OscLast = [31.47,45.89,32.33,40.52,23.32];
const p7PriceTicks = [5500,5000,3400];
const p7OscTicks = [0];
const p7TimeIdx = [9,17,25,37];
const p7TimeText = ['6','8','10','13'];

// ---- panel 8 : 8h ----
const p8Candles = [
  [4418.5,4624.8,4406.7,4612.4],[4612.4,4687.3,4526.6,4632.3],[4632.3,4776.1,4600.0,4763.4],[4763.4,4768.5,4649.7,4725.2],
  [4725.2,4732.8,4519.3,4526.6],[4575.4,4632.3,4454.3,4555.9],[4555.9,4632.3,4478.3,4538.7],[4538.7,4563.2,4435.2,4507.2],
  [4507.2,4582.8,4478.3,4563.2],[4563.2,4649.7,4461.4,4466.3],[4466.3,4471.0,4094.7,4214.7],[4214.7,4232.8,3502.2,3890.7],
  [3890.7,4065.8,3826.5,4033.2],[4033.2,4131.8,3975.1,4116.6],[4116.6,4228.3,4065.8,4194.4],[4194.4,4244.2,4033.2,4094.7],
  [4065.8,4214.7,4033.2,4194.4],[4194.4,4198.9,4011.6,4065.8],[4065.8,4149.6,3922.2,4120.7],[4116.6,4359.6,4104.7,4348.0],
  [4348.0,4376.1,4301.5,4355.0],[4348.0,4425.7,4324.7,4383.1],[4383.1,4399.5,4255.6,4301.5],[4301.5,4383.1,4283.1,4371.4],
  [4364.4,4449.5,4283.1,4401.9],[4401.9,4447.1,4366.7,4435.2],[4435.2,4485.4,4371.4,4376.1],[4376.1,4383.1,4143.8,4194.4],
  [4194.4,4221.5,4081.8,4100.7],[4100.7,4221.5,4022.4,4028.9],[4028.9,4207.0,3985.8,4018.1],[4022.4,4044.0,3884.7,3890.7],
  [3890.7,4054.9,3826.5,3975.1],[3975.1,4087.7,3968.7,4054.9],[4054.9,4104.7,3979.3,4094.7],[4094.7,4104.7,4007.2,4054.9],
  [4054.9,4059.3,3990.1,4039.7]
];
const p8Basis = [4275.7,4324.4,4365.7,4360.4,4363.7,4365.1,4367.9,4367.9,4386.6,4411.4,4421.4,4416.2,4405.1,4403.8,4416.0,4398.9,4391.8,4389.1,4364.0,4360.3,4347.4,4337.0,4322.0,4300.2,4290.8,4286.2,4280.1,4261.7,4235.3,4209.1,4199.0,4205.3,4198.8,4194.6,4191.4,4187.8,4182.86];
const p8Width = [604.1,701.8,797.1,830.1,840.8,847.9,856.3,856.3,818.0,779.1,763.6,836.1,855.6,842.9,816.6,853.3,874.6,900.0,925.1,923.2,904.8,875.9,785.8,712.4,681.7,659.7,634.0,600.0,553.8,541.5,556.9,563.2,572.3,581.6,584.8,588.4,601.72];
const p8Green = [97.1,98.6,99.4,98.9,73.7,49.4,49.4,40.9,59.4,38.0,16.6,0.9,16.6,35.1,55.1,42.3,46.6,30.9,25.7,50.9,65.1,85.1,68.0,69.4,72.3,88.0,65.1,35.1,19.4,12.3,10.9,4.6,20.9,40.9,58.0,50.9,35.68];
const p8Red = [83.7,88.0,92.3,90.9,86.6,79.4,70.9,65.1,59.4,50.9,42.3,35.1,29.4,27.4,26.6,26.6,30.9,36.0,38.0,42.3,43.7,49.4,53.7,60.0,68.0,73.7,75.1,68.6,59.4,49.4,38.0,25.1,17.1,18.0,25.1,31.4,34.85];
const p8Blue = [62.3,70.9,75.1,80.0,80.0,79.4,75.1,74.3,72.3,68.0,62.3,56.0,50.3,48.6,47.4,46.6,45.1,43.7,42.9,42.9,43.7,44.6,45.7,46.6,47.4,48.6,49.4,46.6,42.3,38.0,34.3,31.4,30.9,34.3,38.0,41.7,42.10];
const p8Gray = [83.7,79.4,73.7,65.1,42.3,2.3,-0.6,-0.6,25.1,28.0,10.9,0.9,19.4,42.3,69.4,73.7,78.0,65.1,49.4,68.0,82.3,95.1,88.0,80.9,72.3,68.0,58.0,25.1,-4.9,-14.9,-12.0,-0.6,30.9,68.0,89.4,90.9,71.31];
const p8Dots = [[1,80.9],[2,82.9],[3,87.1],[4,85.7],[5,80.9],[32,21.7],[33,22.3]];
const p8Levels = [4784.58,4618.27,4451.95,4349.17,4182.86,4016.55,3913.77,3747.45,3581.14];
const p8OscLast = [35.68,34.85,42.10,71.31,22.35];
const p8PriceTicks = [5500,5000,3325];
const p8OscTicks = [80,0];
const p8TimeIdx = [2,17,26,38];
const p8TimeText = ['Dec','6','9','13'];

// ---- assemble ----
const panels = [
  { candles: p1Candles, basis: p1Basis, width: p1Width, green: p1Green, red: p1Red, blue: p1Blue, gray: p1Gray, dots: p1Dots, levels: p1Levels, oscLast: p1OscLast, priceTicks: p1PriceTicks, oscTicks: p1OscTicks, timeIdx: p1TimeIdx, timeText: p1TimeText },
  { candles: p2Candles, basis: p2Basis, width: p2Width, green: p2Green, red: p2Red, blue: p2Blue, gray: p2Gray, dots: p2Dots, levels: p2Levels, oscLast: p2OscLast, priceTicks: p2PriceTicks, oscTicks: p2OscTicks, timeIdx: p2TimeIdx, timeText: p2TimeText },
  { candles: p3Candles, basis: p3Basis, width: p3Width, green: p3Green, red: p3Red, blue: p3Blue, gray: p3Gray, dots: p3Dots, levels: p3Levels, oscLast: p3OscLast, priceTicks: p3PriceTicks, oscTicks: p3OscTicks, timeIdx: p3TimeIdx, timeText: p3TimeText },
  { candles: p4Candles, basis: p4Basis, width: p4Width, green: p4Green, red: p4Red, blue: p4Blue, gray: p4Gray, dots: p4Dots, levels: p4Levels, oscLast: p4OscLast, priceTicks: p4PriceTicks, oscTicks: p4OscTicks, timeIdx: p4TimeIdx, timeText: p4TimeText },
  { candles: p5Candles, basis: p5Basis, width: p5Width, green: p5Green, red: p5Red, blue: p5Blue, gray: p5Gray, dots: p5Dots, levels: p5Levels, oscLast: p5OscLast, priceTicks: p5PriceTicks, oscTicks: p5OscTicks, timeIdx: p5TimeIdx, timeText: p5TimeText },
  { candles: p6Candles, basis: p6Basis, width: p6Width, green: p6Green, red: p6Red, blue: p6Blue, gray: p6Gray, dots: p6Dots, levels: p6Levels, oscLast: p6OscLast, priceTicks: p6PriceTicks, oscTicks: p6OscTicks, timeIdx: p6TimeIdx, timeText: p6TimeText },
  { candles: p7Candles, basis: p7Basis, width: p7Width, green: p7Green, red: p7Red, blue: p7Blue, gray: p7Gray, dots: p7Dots, levels: p7Levels, oscLast: p7OscLast, priceTicks: p7PriceTicks, oscTicks: p7OscTicks, timeIdx: p7TimeIdx, timeText: p7TimeText },
  { candles: p8Candles, basis: p8Basis, width: p8Width, green: p8Green, red: p8Red, blue: p8Blue, gray: p8Gray, dots: p8Dots, levels: p8Levels, oscLast: p8OscLast, priceTicks: p8PriceTicks, oscTicks: p8OscTicks, timeIdx: p8TimeIdx, timeText: p8TimeText }
];

// visible window of each panel (index range, price range, oscillator range)
const views = [
  { plotW: 809, xMin: -0.26, xMax: 35.53, pMin: 3927.3, pMax: 4166.4, oMin: -18.2, oMax: 128.6 },
  { plotW: 811, xMin: -0.43, xMax: 48.52, pMin: 3688.7, pMax: 4408.2, oMin: -2.2, oMax: 123.6 },
  { plotW: 803, xMin: -0.43, xMax: 48.47, pMin: 3695.1, pMax: 4769.5, oMin: -3.9, oMax: 108.2 },
  { plotW: 805, xMin: -1.04, xMax: 51.64, pMin: 3638.7, pMax: 4850.3, oMin: -13.5, oMax: 109.75 },
  { plotW: 801, xMin: 0.31, xMax: 52.63, pMin: 3500.7, pMax: 4967.4, oMin: -20.4, oMax: 110.3 },
  { plotW: 802, xMin: 0.09, xMax: 41.56, pMin: 3454.8, pMax: 4972.5, oMin: -26.8, oMax: 115.4 },
  { plotW: 803, xMin: -0.31, xMax: 41.9, pMin: 3237.5, pMax: 5710.6, oMin: -18.5, oMax: 119.1 },
  { plotW: 805, xMin: -0.19, xMax: 41.94, pMin: 3288.3, pMax: 5595.6, oMin: -27.1, oMax: 113.7 }
];

const LAYOUT = {
  colX: [0, 924, 1848, 2772], colW: 922,
  rowY: [0, 921], rowH: [919, 922],
  priceH: [580, 582], oscH: [288, 290]
};

// ---- styles ----
const UP = '#1ee856', DOWN = '#e8231a', WICK = '#dcdcdc', YELLOW = '#ffec00';
const BAND_COLORS = ['#ec4a3c', '#ff9800', '#22dde6', '#ffffff'];
const LEVEL_BG = ['#f0443b','#ff9100','#00eeee','#ffffff','#ffff00','#ffffff','#00eeee','#ff9100','#f0443b'];
const LEVEL_FG = ['#ffffff','#131722','#131722','#131722','#131722','#131722','#131722','#131722','#ffffff'];
const OSC_BG = ['#4caf50', '#ff5252', '#2196f3', '#ffffff', '#ffeb3b'];
const OSC_FG = ['#ffffff', '#ffffff', '#ffffff', '#131722', '#131722'];
const OSC_LEVEL_STYLE = [
  { color: '#ef5350', width: 2, dash: [8, 7] },
  { color: '#ffa726', width: 1, dash: [3, 3] },
  { color: '#66bb6a', width: 1, dash: [3, 3] },
  { color: '#c9cacf', width: 4, dash: [20, 15], full: true },
  { color: '#ef6f6f', width: 1, dash: [3, 3] },
  { color: '#ffa726', width: 1, dash: [3, 3] },
  { color: '#4caf50', width: 2, dash: [8, 7] }
];
const AXIS_FONT = '19px "DejaVu Sans"';
const TEXT_COLOR = '#dfe2ea';
const PAD_L = 16, PAD_R = 10, LABEL_H = 31.5;

function stackLabels(items, anchor) {
  const above = items.filter(it => it !== anchor && it.y <= anchor.y).sort((a, b) => b.y - a.y);
  const below = items.filter(it => it !== anchor && it.y > anchor.y).sort((a, b) => a.y - b.y);
  let edge = anchor.top;
  above.forEach(it => { it.top = Math.min(it.y - it.h / 2, edge - it.h); edge = it.top; });
  edge = anchor.top + anchor.h;
  below.forEach(it => { it.top = Math.max(it.y - it.h / 2, edge); edge = it.top + it.h; });
}

function drawBox(ctx, x, it) {
  ctx.font = AXIS_FONT;
  const w = Math.max(...it.lines.map(t => ctx.measureText(t).width)) + PAD_L + PAD_R;
  ctx.fillStyle = it.bg;
  ctx.fillRect(x, it.top, w, it.h);
  ctx.fillStyle = it.fg;
  ctx.textAlign = 'left';
  ctx.textBaseline = 'middle';
  it.lines.forEach((t, k) => ctx.fillText(t, x + PAD_L, it.top + 15.5 + k * 27));
}

function pts(arr) { return arr.map((y, i) => ({ x: i, y })); }

function buildPanel(p, v, n) {
  const col = n % 4, row = Math.floor(n / 4);
  const W = LAYOUT.colW, H = LAYOUT.rowH[row];
  const pH = LAYOUT.priceH[row], oH = LAYOUT.oscH[row];
  const axisW = W - v.plotW;

  const div = document.createElement('div');
  div.className = 'panel';
  div.style.left = LAYOUT.colX[col] + 'px';
  div.style.top = LAYOUT.rowY[row] + 'px';
  div.style.width = W + 'px';
  div.style.height = H + 'px';
  document.body.appendChild(div);

  const c1 = document.createElement('canvas');
  c1.width = W; c1.height = pH; c1.style.top = '0px';
  const c2 = document.createElement('canvas');
  c2.width = W; c2.height = H - pH; c2.style.top = pH + 'px';
  div.appendChild(c1); div.appendChild(c2);

  const last = p.candles[p.candles.length - 1];
  const lastUp = last[3] >= last[0];
  const pxPerIdx = v.plotW / (v.xMax - v.xMin);

  // ---- price pane ----
  const priceSets = [
    { type: 'bar', data: p.candles.map((c, i) => ({ x: i, y: [c[2], c[1]] })), backgroundColor: WICK,
      barThickness: 1.6, grouped: false, borderWidth: 0, order: 3 },
    { type: 'bar', data: p.candles.map((c, i) => ({ x: i, y: [c[0], c[3]] })),
      backgroundColor: p.candles.map(c => c[3] >= c[0] ? UP : DOWN),
      barThickness: Math.round(pxPerIdx * 0.78), grouped: false, borderWidth: 0, minBarLength: 2, order: 2 }
  ];
  bandMult.forEach((m, k) => {
    [1, -1].forEach(s => {
      priceSets.push({
        type: 'line', data: p.basis.map((b, i) => ({ x: i, y: b + s * m * p.width[i] })),
        borderColor: BAND_COLORS[k], borderWidth: 3, pointRadius: 0, tension: 0, fill: false, order: 1
      });
    });
  });
  priceSets.push({ type: 'line', data: pts(p.basis), showLine: false, pointRadius: 4.5,
    pointBackgroundColor: YELLOW, pointBorderWidth: 0, order: 0 });

  const pricePane = {
    id: 'pricePane',
    beforeDraw(chart) {
      const { ctx, width, height } = chart;
      const g = ctx.createLinearGradient(0, 0, 0, height);
      g.addColorStop(0, '#000000');
      g.addColorStop(1, '#44474f');
      ctx.save(); ctx.fillStyle = g; ctx.fillRect(0, 0, width, height); ctx.restore();
    },
    beforeDatasetsDraw(chart) {
      const { ctx } = chart;
      const y = Math.round(chart.scales.y.getPixelForValue(lastPrice)) + 0.5;
      ctx.save();
      ctx.strokeStyle = lastUp ? UP : DOWN;
      ctx.lineWidth = 1;
      ctx.setLineDash([2, 3]);
      ctx.beginPath(); ctx.moveTo(0, y); ctx.lineTo(v.plotW, y); ctx.stroke();
      ctx.restore();
    },
    afterDraw(chart) {
      const { ctx, height } = chart;
      const ys = chart.scales.y;
      const ax = v.plotW;
      ctx.save();
      // axis separator
      ctx.strokeStyle = '#ffffff'; ctx.lineWidth = 1;
      ctx.beginPath(); ctx.moveTo(ax + 0.5, 0); ctx.lineTo(ax + 0.5, height); ctx.stroke();
      // ticks
      ctx.font = AXIS_FONT; ctx.fillStyle = TEXT_COLOR; ctx.textBaseline = 'middle'; ctx.textAlign = 'left';
      p.priceTicks.forEach(t => ctx.fillText(t.toFixed(2), ax + PAD_L, ys.getPixelForValue(t)));
      // last value labels
      const yl = ys.getPixelForValue(lastPrice);
      const anchor = { y: yl, top: yl - 15, h: 58, lines: [lastPrice.toFixed(2), countdowns[n]],
        bg: lastUp ? '#1ee84a' : '#e8190e', fg: lastUp ? '#0d2b12' : '#ffe3e0' };
      const items = p.levels.map((val, k) => ({ y: ys.getPixelForValue(val), h: LABEL_H,
        lines: [val.toFixed(2)], bg: LEVEL_BG[k], fg: LEVEL_FG[k] }));
      stackLabels(items, anchor);
      items.forEach(it => drawBox(ctx, ax + 1, it));
      drawBox(ctx, ax + 1, anchor);
      // currency box
      const bx = ax + 26, by = 11, bw = 62, bh = 28;
      ctx.beginPath();
      ctx.roundRect(bx + 0.5, by + 0.5, bw, bh, 4);
      ctx.fillStyle = '#121318'; ctx.fill();
      ctx.strokeStyle = '#5d606b'; ctx.lineWidth = 1; ctx.stroke();
      ctx.fillStyle = '#ffffff'; ctx.font = '18px "DejaVu Sans"'; ctx.textAlign = 'center';
      ctx.fillText('USDT', bx + bw / 2 + 0.5, by + bh / 2 + 1);
      // title
      ctx.font = '500 18px Roboto'; ctx.textAlign = 'left'; ctx.fillStyle = '#ffffff';
      ctx.fillText(titles[n], 11, row === 0 ? 22 : 25);
      ctx.restore();
    }
  };

  new Chart(c1, {
    type: 'bar',
    data: { datasets: priceSets },
    options: {
      responsive: false, animation: false, devicePixelRatio: 1, events: [],
      layout: { padding: { left: 0, top: 0, bottom: 0, right: axisW } },
      plugins: { legend: { display: false }, tooltip: { enabled: false } },
      scales: {
        x: { type: 'linear', min: v.xMin, max: v.xMax, offset: false, display: false },
        y: { type: 'logarithmic', min: v.pMin, max: v.pMax, display: false }
      }
    },
    plugins: [pricePane]
  });

  // ---- oscillator pane + time axis ----
  const oscSets = [
    { data: pts(p.gray), borderColor: 'rgba(210,210,215,0.6)', borderWidth: 1,
      backgroundColor: 'rgba(190,190,195,0.64)', fill: { value: 50 }, pointRadius: 0, tension: 0, order: 6 },
    { data: pts(p.green), borderColor: 'rgba(96,190,100,0.95)', borderWidth: 3.5, pointRadius: 0, tension: 0, order: 3 },
    { data: pts(p.red), borderColor: 'rgba(255,82,82,0.95)', borderWidth: 4, pointRadius: 0, tension: 0, order: 2 },
    { data: pts(p.blue), borderColor: 'rgba(33,150,243,0.95)', borderWidth: 4, pointRadius: 0, tension: 0, order: 1 },
    { data: p.dots.map(d => ({ x: d[0], y: d[1] })), showLine: false, pointRadius: 4.5,
      pointBackgroundColor: YELLOW, pointBorderWidth: 0, order: 0 }
  ];

  const drawLevel = (chart, k) => {
    const { ctx, width } = chart;
    const s = OSC_LEVEL_STYLE[k];
    const y = Math.round(chart.scales.y.getPixelForValue(oscLevelValues[k])) + (s.width % 2 ? 0.5 : 0);
    ctx.save();
    ctx.strokeStyle = s.color; ctx.lineWidth = s.width; ctx.setLineDash(s.dash);
    ctx.beginPath(); ctx.moveTo(0, y); ctx.lineTo(s.full ? width : v.plotW, y); ctx.stroke();
    ctx.restore();
  };

  const oscPane = {
    id: 'oscPane',
    beforeDraw(chart) {
      const { ctx, width, height } = chart;
      const g = ctx.createLinearGradient(0, 0, 0, oH);
      g.addColorStop(0, '#000000');
      g.addColorStop(1, '#3b3e47');
      ctx.save();
      ctx.fillStyle = g; ctx.fillRect(0, 0, width, oH);
      ctx.fillStyle = '#3e414a'; ctx.fillRect(0, oH, width, height - oH);
      ctx.restore();
    },
    beforeDatasetsDraw(chart) {
      OSC_LEVEL_STYLE.forEach((s, k) => { if (!s.full) drawLevel(chart, k); });
    },
    afterDatasetDraw(chart, args) {
      if (args.index === 0) OSC_LEVEL_STYLE.forEach((s, k) => { if (s.full) drawLevel(chart, k); });
    },
    afterDraw(chart) {
      const { ctx, width, height } = chart;
      const ys = chart.scales.y, xs = chart.scales.x;
      const ax = v.plotW;
      ctx.save();
      ctx.strokeStyle = '#ffffff'; ctx.lineWidth = 1.5;
      ctx.beginPath();
      ctx.moveTo(0, 0.75); ctx.lineTo(width, 0.75);
      ctx.moveTo(0, oH + 0.5); ctx.lineTo(width, oH + 0.5);
      ctx.stroke();
      ctx.lineWidth = 1;
      ctx.beginPath(); ctx.moveTo(ax + 0.5, 0); ctx.lineTo(ax + 0.5, height); ctx.stroke();
      // ticks
      ctx.font = AXIS_FONT; ctx.fillStyle = TEXT_COLOR; ctx.textBaseline = 'middle'; ctx.textAlign = 'left';
      p.oscTicks.forEach(t => ctx.fillText(t.toFixed(2), ax + PAD_L, ys.getPixelForValue(t)));
      // last value labels, green line label stays put
      const items = p.oscLast.map((val, k) => ({ y: ys.getPixelForValue(val), h: LABEL_H,
        lines: [val.toFixed(2)], bg: OSC_BG[k], fg: OSC_FG[k] }));
      const anchor = items[0];
      anchor.top = anchor.y - anchor.h / 2;
      stackLabels(items, anchor);
      items.forEach(it => drawBox(ctx, ax + 1, it));
      // time axis
      ctx.textAlign = 'center'; ctx.fillStyle = TEXT_COLOR;
      p.timeIdx.forEach((ix, k) => {
        const t = p.timeText[k];
        ctx.font = (t.includes(':') ? '' : 'bold ') + AXIS_FONT;
        ctx.fillText(t, xs.getPixelForValue(ix), oH + (row === 0 ? 22 : 24));
      });
      ctx.restore();
    }
  };

  new Chart(c2, {
    type: 'line',
    data: { datasets: oscSets },
    options: {
      responsive: false, animation: false, devicePixelRatio: 1, events: [],
      layout: { padding: { left: 0, top: 0, right: axisW, bottom: H - pH - oH } },
      plugins: { legend: { display: false }, tooltip: { enabled: false } },
      scales: {
        x: { type: 'linear', min: v.xMin, max: v.xMax, display: false },
        y: { type: 'linear', min: v.oMin, max: v.oMax, display: false }
      }
    },
    plugins: [oscPane]
  });
}

panels.forEach((p, n) => buildPanel(p, views[n], n));
</script>
</body>
</html>
